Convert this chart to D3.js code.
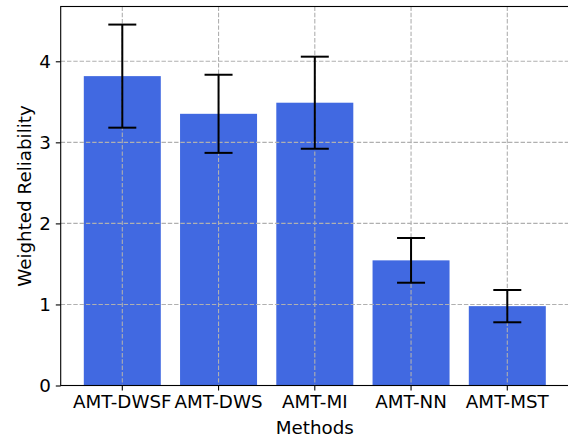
<!DOCTYPE html>
<html>
<head>
<meta charset="utf-8">
<script src="https://cdn.jsdelivr.net/npm/d3@7"></script>
<style>
  html, body { margin: 0; padding: 0; background: #fff; }
  svg { display: block; }
  text { font-family: "DejaVu Sans", sans-serif; }
</style>
</head>
<body>
<svg id="chart" width="568" height="441"></svg>
<script>
const methods = ["AMT-DWSF", "AMT-DWS", "AMT-MI", "AMT-NN", "AMT-MST"];
const means = [3.817, 3.352, 3.489, 1.544, 0.979];
const errors = [0.636, 0.482, 0.568, 0.276, 0.199];
const yTicks = [0, 1, 2, 3, 4];
const yMax = 4.676;

const svg = d3.select("#chart");
const pL = 60.7, pR = 568.9, pT = 6.5, pB = 385.5;
const FS = "18.3px";

const x = d3.scaleBand().domain(methods).range([pL, pR])
  .paddingInner(0.2).paddingOuter(0.24);
const y = d3.scaleLinear().domain([0, yMax]).range([pB, pT]);

const data = methods.map((m, i) => ({ m, v: means[i], e: errors[i] }));

// bars
svg.append("g").selectAll("rect").data(data).join("rect")
  .attr("x", d => x(d.m))
  .attr("width", x.bandwidth())
  .attr("y", d => y(d.v))
  .attr("height", d => y(0) - y(d.v))
  .attr("fill", "#4169E1");

// grid
const grid = svg.append("g").attr("stroke", "#b0b0b0").attr("stroke-width", 1.1)
  .attr("stroke-dasharray", "4.4,1.9");
grid.selectAll(".gy").data(yTicks).join("line")
  .attr("x1", pL).attr("x2", pR)
  .attr("y1", d => y(d)).attr("y2", d => y(d));
grid.selectAll(".gx").data(methods).join("line")
  .attr("x1", d => x(d) + x.bandwidth() / 2).attr("x2", d => x(d) + x.bandwidth() / 2)
  .attr("y1", pT).attr("y2", pB);

// error bars
const eb = svg.append("g").attr("stroke", "#000").attr("stroke-width", 2);
data.forEach(d => {
  const cx = x(d.m) + x.bandwidth() / 2;
  eb.append("line").attr("x1", cx).attr("x2", cx).attr("y1", y(d.v - d.e)).attr("y2", y(d.v + d.e));
  [d.v - d.e, d.v + d.e].forEach(val => {
    eb.append("line").attr("x1", cx - 14).attr("x2", cx + 14).attr("y1", y(val)).attr("y2", y(val));
  });
});

// axes
const yAxis = d3.axisLeft(y).tickValues(yTicks).tickFormat(d3.format("d")).tickSize(4.9).tickPadding(5);
const xAxis = d3.axisBottom(x).tickSize(4.9).tickPadding(5);

const gy = svg.append("g").attr("transform", `translate(${pL},0)`).call(yAxis);
const gx = svg.append("g").attr("transform", `translate(0,${pB})`).call(xAxis);
[gx, gy].forEach(g => {
  g.select(".domain").remove();
  g.selectAll("line").attr("stroke", "#000").attr("stroke-width", 1.1);
  g.selectAll("text").attr("font-size", FS).attr("fill", "#000")
    .attr("font-family", "DejaVu Sans, sans-serif");
});

// spines
svg.append("rect").attr("x", pL).attr("y", pT)
  .attr("width", pR - pL).attr("height", pB - pT)
  .attr("fill", "none").attr("stroke", "#000").attr("stroke-width", 1.1);

// labels
svg.append("text").attr("x", (pL + pR) / 2).attr("y", 434)
  .attr("text-anchor", "middle").attr("font-size", FS).text("Methods");
svg.append("text").attr("transform", `translate(31,${(pT + pB) / 2}) rotate(-90)`)
  .attr("text-anchor", "middle").attr("font-size", FS).text("Weighted Reliability");
</script>
</body>
</html>
